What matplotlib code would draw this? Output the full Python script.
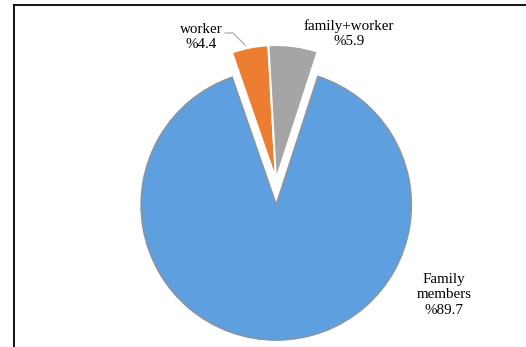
import matplotlib
matplotlib.use("Agg")
import matplotlib.pyplot as plt
from matplotlib.lines import Line2D

# Household labour composition
labels = ["Family\nmembers", "worker", "family+worker"]
values = [89.7, 4.4, 5.9]
colors = ["#5EA0DF", "#ED7D31", "#A5A5A5"]
explode = [0.185, 0, 0]

W, H = 526, 347
fig = plt.figure(figsize=(W / 100, H / 100), dpi=100)

# axes sized so that a unit radius spans 135 px, pie centre at (276, 180) px from top-left
R_px = 135.0
half = 175.0
cx, cy = 276.0, H - 180.0
ax = fig.add_axes([(cx - half) / W, (cy - half) / H, 2 * half / W, 2 * half / H])

wedges, _ = ax.pie(values, colors=colors, explode=explode, startangle=72,
                   counterclock=False, radius=1.0,
                   wedgeprops=dict(edgecolor="white", linewidth=1.5))
wedges[0].set_edgecolor("#8496aa")
wedges[0].set_linewidth(1.3)

lim = half / R_px
ax.set_xlim(-lim, lim)
ax.set_ylim(-lim, lim)
ax.set_aspect("equal")
ax.axis("off")

def to_data(px, py):
    return (px - 276.0) / R_px, (180.0 - py) / R_px

font = dict(family="Liberation Serif", fontsize=10.8, color="black",
            ha="center", va="center", linespacing=1.2)

x, y = to_data(201, 37)
ax.text(x, y, f"{labels[1]}\n%{values[1]}", **font)
x, y = to_data(349, 34)
ax.text(x, y, f"{labels[2]}\n%{values[2]}", **font)
x, y = to_data(444, 295)
ax.text(x, y, f"{labels[0]}\n%{values[0]}", **font)

# leader line for the small slice
pts = [to_data(225, 33), to_data(233, 33), to_data(245, 45)]
ax.plot([p[0] for p in pts], [p[1] for p in pts], color="#a0a0a0", lw=0.8,
        clip_on=False)

# chart frame
fig.add_artist(Line2D([13.5 / W, 13.5 / W], [0, (H - 5) / H], color="black",
                      lw=1.3, transform=fig.transFigure))
fig.add_artist(Line2D([13.5 / W, 1], [(H - 5) / H, (H - 5) / H], color="black",
                      lw=1.3, transform=fig.transFigure))

fig.savefig("out.png", dpi=100, facecolor="white")
